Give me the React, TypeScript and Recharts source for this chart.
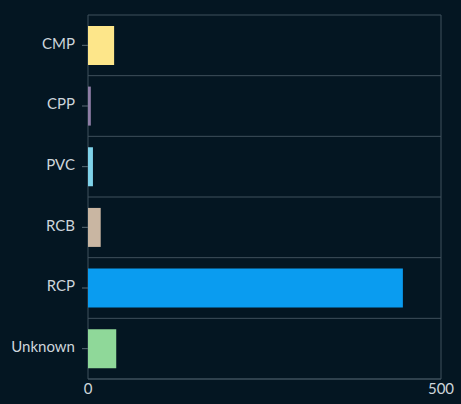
import { Bar, BarChart, CartesianGrid, Cell, ReferenceLine, XAxis, YAxis } from "recharts";

const categories = ["CMP", "CPP", "PVC", "RCB", "RCP", "Unknown"];
const counts = [37, 4, 7, 18, 446, 40];
const barColors = ["#fde68a", "#8e7ea6", "#7fd3ea", "#c9b6a2", "#0a9cf0", "#8fd899"];
const xTicks = [0, 500];

const data = categories.map((name, i) => ({ name, count: counts[i] }));

const bg = "#041622";
const lineColor = "#3f505c";
const tick = { fill: "#cdd5db", fontSize: 15, fontFamily: "Lato, sans-serif" };

export default function App() {
  return (
    <div style={{ position: "fixed", inset: 0, background: bg }}>
      <BarChart
        width={461}
        height={404}
        data={data}
        layout="vertical"
        margin={{ top: 15, right: 20, left: 0, bottom: 0 }}
        barCategoryGap="18%"
      >
        <CartesianGrid horizontal={false} stroke={lineColor} />
        <XAxis
          type="number"
          domain={[0, 500]}
          ticks={xTicks}
          tick={tick}
          tickLine={false}
          tickSize={2}
          axisLine={{ stroke: lineColor }}
          height={25}
        />
        <YAxis
          type="category"
          dataKey="name"
          tick={{ ...tick, dy: -2 }}
          tickSize={6}
          tickMargin={7}
          tickLine={{ stroke: "#5b6b76" }}
          axisLine={false}
          width={88}
        />
        {/* band boundaries between categories */}
        {categories.map((c) => (
          <ReferenceLine key={c} y={c} position="start" stroke={lineColor} />
        ))}
        <ReferenceLine y={categories[categories.length - 1]} position="end" stroke={lineColor} />
        <Bar dataKey="count" isAnimationActive={false}>
          {data.map((d, i) => (
            <Cell key={d.name} fill={barColors[i]} />
          ))}
        </Bar>
      </BarChart>
    </div>
  );
}
